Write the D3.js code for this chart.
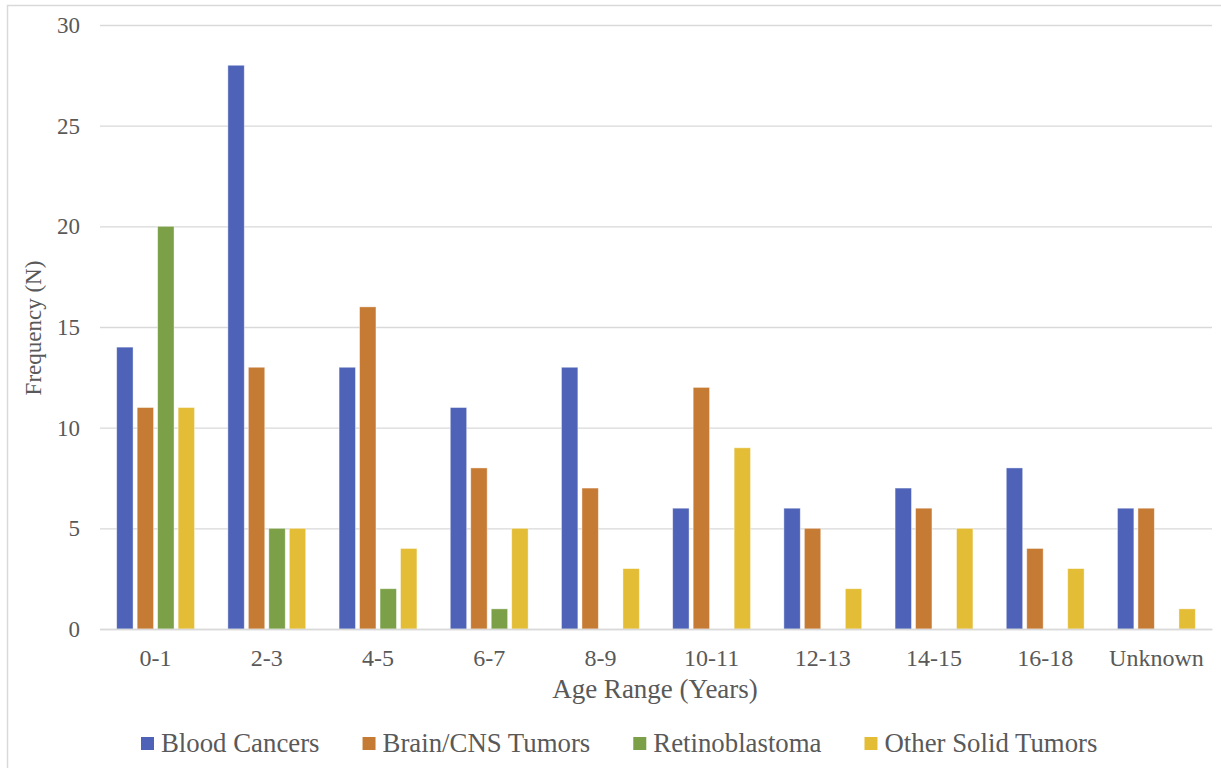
<!DOCTYPE html>
<html><head><meta charset="utf-8">
<script src="https://cdn.jsdelivr.net/npm/d3@7"></script>
<style>body{margin:0;background:#fff}svg{display:block}
text{font-family:"Liberation Serif","Tinos","Times New Roman","DejaVu Serif",serif}</style>
</head><body><svg id="c" width="1221" height="768"></svg>
<script>
const categories = ["0-1","2-3","4-5","6-7","8-9","10-11","12-13","14-15","16-18","Unknown"];
const seriesNames = ["Blood Cancers","Brain/CNS Tumors","Retinoblastoma","Other Solid Tumors"];
const bloodCancers = [14,28,13,11,13,6,6,7,8,6];
const brainCNS = [11,13,16,8,7,12,5,6,4,6];
const retinoblastoma = [20,5,2,1,0,0,0,0,0,0];
const otherSolid = [11,5,4,5,3,9,2,5,3,1];
const yTicks = [0,5,10,15,20,25,30];
const colors = ["#4E63B7","#C67B34","#7BA048","#E4BD36"];

const seriesValues = [bloodCancers, brainCNS, retinoblastoma, otherSolid];
const svg = d3.select("#c");
const mLeft = 100, mRight = 1212, mTop = 25, mBottom = 629;

svg.append("rect").attr("x",7.5).attr("y",5.5).attr("width",1230).attr("height",800)
  .attr("fill","none").attr("stroke","#d9d9d9").attr("stroke-width",1.5);

const y = d3.scaleLinear().domain([0,30]).range([mBottom, mTop]);
const x0 = d3.scaleBand().domain(categories).range([mLeft,mRight]).paddingInner(0.3).paddingOuter(0.15);
const x1 = d3.scaleBand().domain(seriesNames).range([0,x0.bandwidth()]).paddingInner(0.2);
const color = d3.scaleOrdinal().domain(seriesNames).range(colors);

const yAxis = d3.axisLeft(y).tickValues(yTicks).tickSize(-(mRight-mLeft)).tickPadding(20).tickFormat(d3.format("d"));
const gy = svg.append("g").attr("transform",`translate(${mLeft},0)`).call(yAxis);
gy.attr("font-family",null);
gy.select(".domain").remove();
gy.selectAll(".tick line").attr("stroke","#d9d9d9").attr("stroke-width",1.3);
gy.selectAll(".tick text").attr("font-size",23).attr("fill","#595959").attr("dy","0.33em");

const data = [];
categories.forEach((c,i)=>seriesNames.forEach((s,j)=>data.push({c,s,v:seriesValues[j][i]})));
svg.append("g").selectAll("rect").data(data.filter(d=>d.v>0)).join("rect")
  .attr("x",d=>x0(d.c)+x1(d.s)).attr("width",x1.bandwidth())
  .attr("y",d=>y(d.v)).attr("height",d=>y(0)-y(d.v))
  .attr("fill",d=>color(d.s)).attr("stroke","#ffffff").attr("stroke-opacity",0.5).attr("stroke-width",0.8);

const xAxis = d3.axisBottom(x0).tickSize(0).tickPadding(20);
const gx = svg.append("g").attr("transform",`translate(0,${mBottom})`).call(xAxis);
gx.attr("font-family",null);
gx.select(".domain").attr("stroke","#d9d9d9").attr("stroke-width",1.3);
gx.selectAll(".tick text").attr("font-size",24).attr("fill","#595959");

svg.append("text").attr("x",655).attr("y",698).attr("text-anchor","middle")
  .attr("font-size",27).attr("fill","#595959").text("Age Range (Years)");
svg.append("text").attr("transform","translate(41,328) rotate(-90)").attr("text-anchor","middle")
  .attr("font-size",23).attr("fill","#595959").text("Frequency (N)");

const lg = svg.append("g");
let lx = 141;
seriesNames.forEach((s,j)=>{
  lg.append("rect").attr("x",lx).attr("y",737).attr("width",13).attr("height",13).attr("fill",colors[j]);
  const t = lg.append("text").attr("x",lx+20).attr("y",752).attr("font-size",26.8)
    .attr("fill","#595959").text(s);
  lx += 20 + t.node().getComputedTextLength() + 43;
});
</script></body></html>
